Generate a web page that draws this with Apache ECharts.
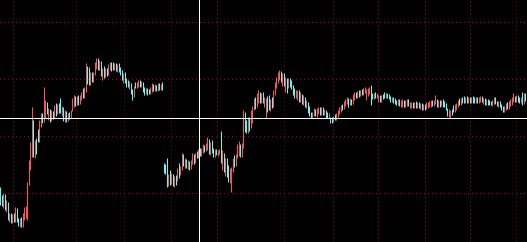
<!DOCTYPE html>
<html>
<head>
<meta charset="utf-8">
<style>
html,body{margin:0;padding:0;background:#000;overflow:hidden;width:527px;height:242px;}
#chart{position:absolute;left:0;top:-35px;width:527px;height:286px;}
</style>
<script src="https://cdn.jsdelivr.net/npm/echarts@6/dist/echarts.min.js"></script>
</head>
<body>
<div id="chart"></div>
<script>
// [open, close, low, high] — first contract segment
const segmentA = [
[62,50,45,63],[52,47,44,55],[44,55,42,57],[55,45,40,56],[40,48,38,50],[47,33,30,48],[30,36,28,37],[36,29,27,37],[29,35,27,36],[35,30,28,37],
[30,41,28,43],[41,30,28,42],[31,26,24,32],[25,31,23,32],[31,25,23,33],[25,34,23,37],[31,40,30,43],[36,42,32,44],[40,67,30,68],[66,88,65,90],
[82,105,80,108],[95,120,93,143],[128,95,93,130],[94,108,92,110],[108,100,96,112],[120,110,108,121],[110,128,108,130],[126,136,123,137],[136,128,127,137],[129,140,128,163],
[138,146,132,150],[147,137,136,148],[132,140,130,142],[140,130,128,141],[131,138,129,140],[138,133,131,139],[133,143,132,145],[145,136,134,147],[137,144,136,146],[146,139,137,147],
[150,138,137,152],[137,142,134,144],[142,131,129,143],[131,138,128,140],[138,130,128,139],[130,136,129,137],[137,133,131,138],[133,138,132,140],[140,150,139,152],[145,153,143,155],
[153,146,144,154],[146,152,145,154],[154,147,145,155],[147,153,146,155],[152,157,150,158],[160,153,152,162],[154,162,152,163],[160,183,158,187],[182,170,166,184],[180,167,165,183],
[167,176,165,178],[176,169,168,178],[169,177,168,178],[176,186,175,188],[183,190,181,192],[191,182,180,192],[182,188,180,190],[188,176,174,189],[172,180,170,182],[182,174,172,184],
[174,180,173,182],[181,175,174,182],[176,184,175,186],[182,187,180,188],[187,181,179,188],[187,182,180,188],[181,185,180,187],[186,180,179,187],[179,185,178,186],[185,179,178,187],
[181,176,175,183],[178,172,170,180],[170,175,167,177],[176,168,167,178],[170,165,163,172],[168,164,163,170],[163,167,161,169],[166,158,156,167],[160,153,150,161],[155,163,153,164],
[166,163,162,168],[163,167,162,168],[164,169,163,170],[169,164,163,170],[164,168,163,169],[167,160,158,168],[162,157,155,163],[157,161,156,162],[161,156,155,162],[160,157,156,161],
[157,162,156,163],[160,165,158,167],[165,160,159,166],[160,164,159,166],[164,160,159,165],[160,166,159,167],[166,161,160,167],[161,165,160,166],[167,161,160,168]
];
// [open, close, low, high] — second contract segment
const segmentB = [
[86,78,77,87],[84,78,76,86],[90,66,63,92],[66,74,64,76],[78,68,65,80],[68,75,66,77],[75,66,64,76],[64,72,63,74],[73,67,65,75],[70,80,69,82],
[84,76,72,87],[76,82,75,84],[82,95,80,97],[95,86,84,96],[84,90,82,92],[90,84,82,91],[83,88,81,90],[88,82,80,89],[82,89,81,90],[88,95,86,97],
[95,88,86,96],[88,96,87,97],[97,93,92,99],[93,99,92,101],[100,95,94,102],[95,101,94,102],[99,104,97,106],[104,99,98,105],[100,106,99,107],[102,111,100,113],
[110,98,96,111],[97,106,95,108],[108,99,97,110],[100,94,93,102],[94,99,93,101],[100,96,95,101],[95,99,94,100],[97,100,96,101],[117,88,87,119],[88,98,80,100],
[96,82,78,97],[80,90,74,92],[90,78,73,92],[84,72,68,85],[70,80,67,82],[66,82,58,83],[80,90,78,92],[94,85,83,95],[86,94,84,96],[93,104,92,106],
[98,108,94,109],[104,95,93,106],[94,106,93,107],[104,138,102,140],[137,120,118,138],[128,118,117,130],[118,130,117,133],[131,122,119,133],[124,138,122,140],[132,143,127,144],
[142,150,140,152],[152,144,141,153],[145,155,143,157],[150,158,147,160],[157,149,147,158],[149,155,147,157],[156,149,147,158],[145,152,143,153],[143,150,132,152],[152,141,138,154],
[150,142,140,155],[142,150,139,151],[151,143,142,153],[144,158,143,160],[156,166,155,168],[163,172,162,173],[170,177,167,178],[172,178,170,180],[178,170,168,179],[168,176,164,177],
[175,168,164,177],[164,172,158,173],[171,162,157,172],[163,170,162,172],[171,165,163,172],[168,162,161,170],[163,157,155,165],[160,153,152,162],[153,158,152,160],[152,159,150,160],
[159,151,148,160],[150,156,148,158],[155,148,146,156],[146,153,145,155],[152,145,143,153],[143,148,142,150],[147,139,137,148],[142,135,134,144],[137,133,132,138],[133,137,132,138],
[135,140,134,142],[140,136,134,141],[135,141,133,142],[138,142,136,143],[142,137,135,143],[137,142,135,143],[142,136,135,143],[136,140,135,141],[139,134,132,140],[136,133,132,138],
[133,136,132,137],[132,128,127,133],[131,129,127,133],[129,133,128,134],[134,131,130,136],[131,136,130,137],[134,139,133,140],[137,142,136,143],[139,144,138,145],[145,141,140,146],
[142,148,141,149],[145,150,144,151],[147,152,146,153],[151,145,143,152],[146,151,145,152],[150,146,145,151],[147,154,146,156],[152,157,150,158],[157,153,152,158],[153,158,152,159],
[159,154,153,160],[155,159,154,160],[160,156,155,161],[156,161,155,162],[158,162,157,163],[151,160,150,161],[155,161,154,162],[157,162,156,163],[164,146,145,165],[156,152,151,157],
[152,156,151,157],[157,153,152,158],[153,156,152,157],[149,154,148,155],[154,150,148,155],[149,154,148,155],[155,152,151,156],[157,153,152,158],[153,156,152,157],[156,153,152,157],
[155,152,151,156],[153,149,148,154],[149,152,148,153],[152,148,147,153],[151,147,146,152],[149,146,145,150],[146,150,145,151],[150,145,144,151],[144,149,143,150],[145,150,143,151],
[149,145,143,150],[144,149,143,150],[146,150,144,151],[150,146,144,151],[143,147,142,148],[144,147,142,148],[147,143,142,148],[143,147,142,148],[148,144,142,149],[143,147,142,148],
[147,143,142,148],[143,146,141,147],[146,141,140,147],[141,145,140,146],[145,142,140,146],[142,147,141,148],[143,147,142,148],[144,148,143,149],[145,149,143,150],[149,145,144,150],
[145,149,144,150],[147,153,146,155],[150,145,143,151],[144,148,143,150],[149,145,143,150],[145,149,144,150],[150,145,143,151],[148,144,143,149],[146,141,140,147],[141,135,134,142],
[134,140,133,141],[133,139,132,140],[140,136,135,141],[144,139,138,145],[139,145,138,146],[141,146,140,147],[144,149,143,150],[151,146,145,152],[146,151,145,152],[152,148,147,153],
[153,149,147,154],[148,152,147,153],[153,148,147,154],[148,152,147,153],[152,148,147,153],[148,152,147,153],[153,149,147,154],[152,148,147,153],[148,152,147,153],[152,148,147,153],
[148,152,147,153],[149,153,148,154],[153,149,148,154],[147,151,146,152],[151,146,145,152],[146,150,145,151],[150,146,145,151],[149,146,145,150],[148,145,145,149],[145,149,144,150],
[147,152,146,153],[152,147,146,153],[148,145,144,149],[144,148,143,149],[148,144,143,149],[145,141,140,146],[143,139,138,144],[139,143,138,144],[141,146,140,147],[146,142,141,148],
[142,148,141,149],[145,150,144,151],[146,152,145,153],[149,155,148,157],[153,149,148,154],[149,153,148,155],[154,149,148,155],[152,148,147,153],[148,152,147,153],[155,147,145,158],
[147,155,146,157],[156,151,149,157]
];
// indices of candles where a new session starts (vertical grid lines)
const sessionStarts = [9, 51, 83, 114, 145, 189, 222, 252, 283, 313, 344];
// crosshair position
const crossIndex = 132;
const crossPrice = 132;
// y-axis scale
const priceMin = 0, priceMax = 285, priceStep = 57;

const candles = segmentA.concat(segmentB);
const categories = candles.map((_, i) => 'T' + i);
const sessionSet = new Set(sessionStarts);

const gridStyle = { color: '#a00000', width: 1, type: [1, 3] };

const chart = echarts.init(document.getElementById('chart'), null, { renderer: 'canvas' });
chart.setOption({
  backgroundColor: '#000000',
  animation: false,
  grid: { left: 0, right: 0, top: 0.5, bottom: 0.5, containLabel: false },
  xAxis: {
    type: 'category',
    data: categories,
    boundaryGap: true,
    axisLine: { show: false },
    axisTick: { show: false },
    axisLabel: { show: false },
    splitLine: {
      show: true,
      interval: (idx) => sessionSet.has(idx),
      lineStyle: gridStyle
    }
  },
  yAxis: {
    type: 'value',
    min: priceMin,
    max: priceMax,
    interval: priceStep,
    axisLine: { show: false },
    axisTick: { show: false },
    axisLabel: { show: false },
    splitLine: { show: true, lineStyle: gridStyle }
  },
  series: [{
    type: 'candlestick',
    data: candles,
    barWidth: 1,
    itemStyle: {
      color: '#ff5252',
      color0: '#52ffff',
      borderColor: '#ff5252',
      borderColor0: '#52ffff',
      borderWidth: 1
    },
    markLine: {
      silent: true,
      symbol: ['none', 'none'],
      label: { show: false },
      lineStyle: { color: '#ffffff', width: 1, type: 'solid' },
      data: [
        { yAxis: crossPrice },
        { xAxis: categories[crossIndex] }
      ]
    }
  }]
});
</script>
</body>
</html>
